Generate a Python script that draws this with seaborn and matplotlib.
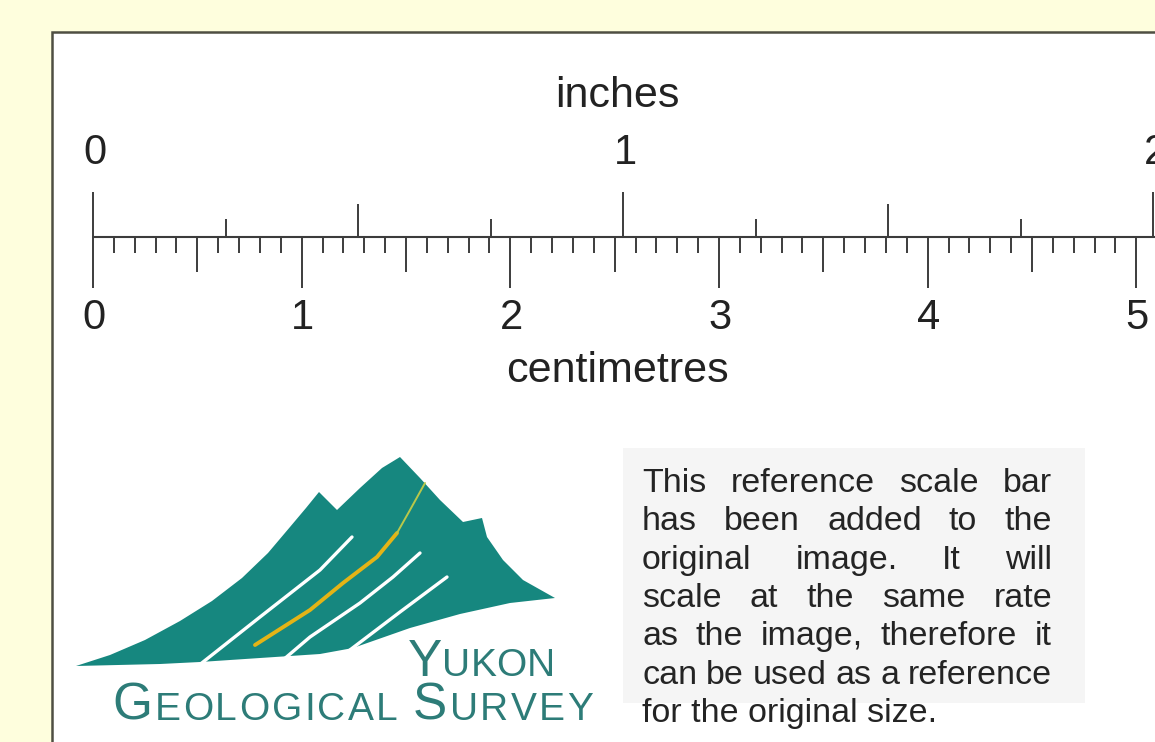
import numpy as np
import pandas as pd
import matplotlib
matplotlib.use('Agg')
import matplotlib.pyplot as plt
from matplotlib.patches import Rectangle, Polygon
import seaborn as sns

# Style
sns.set_style('white')
plt.rcParams['font.family'] = ['Liberation Sans', 'DejaVu Sans']

# ---- data ----
inch_labels = [0, 1, 2]
inch_ticks = [0, 0.25, 0.5, 0.75, 1, 1.25, 1.5, 1.75, 2]
cm_labels = [0, 1, 2, 3, 4, 5]
mm_ticks = list(range(0, 56))
unit_top = 'inches'
unit_bottom = 'centimetres'
paragraph = [
    'This reference scale bar',
    'has been added to the',
    'original image. It will',
    'scale at the same rate',
    'as the image, therefore it',
    'can be used as a reference',
    'for the original size.',
]
logo_line1 = 'YUKON'
logo_line2 = 'GEOLOGICAL SURVEY'

# ---- layout (pixel space) ----
W, H = 1155, 742
x0 = 93            # zero of the ruler
px_inch = 530      # pixels per inch
px_cm = px_inch / 2.54
base_y = 237
line_col = '#3c3c3c'
teal = '#16877f'
teal_text = '#2d7c78'

fig = plt.figure(figsize=(W / 100, H / 100), dpi=100)
fig.patch.set_facecolor('#fefedd')
ax = fig.add_axes([0, 0, 1, 1])

# white panel with dark frame
ax.add_patch(Rectangle((52, 32), 1300, 900, facecolor='white',
                       edgecolor='#4f4f42', linewidth=1.8, zorder=0))
# light grey box behind the paragraph
ax.add_patch(Rectangle((623, 448), 462, 255, facecolor='#f5f5f5',
                       edgecolor='none', zorder=0.5))

# ---- ruler ----
ruler = pd.DataFrame({'x': [x0, W + 5], 'y': [base_y, base_y]})
sns.lineplot(data=ruler, x='x', y='y', ax=ax, color=line_col,
             linewidth=1.5, legend=False)
ax.set_xlim(0, W)
ax.set_ylim(H, 0)
ax.axis('off')

# inch ticks above the line
for t in inch_ticks:
    if t == int(t):
        h = 45
    elif t * 2 == int(t * 2):
        h = 33
    else:
        h = 18
    ax.vlines(x0 + t * px_inch, base_y - h, base_y, color=line_col, linewidth=1.4)

# millimetre ticks below the line
for m in mm_ticks:
    if m % 10 == 0:
        h = 51
    elif m % 5 == 0:
        h = 35
    else:
        h = 16
    ax.vlines(x0 + m * px_cm / 10, base_y, base_y + h, color=line_col, linewidth=1.4)

for v in inch_labels:
    ax.text(x0 + v * px_inch + 2, 153, str(v), fontsize=30, ha='center',
            va='center', color='#222222')
for v in cm_labels:
    ax.text(x0 + v * px_cm + 1, 318, str(v), fontsize=30, ha='center',
            va='center', color='#222222')
ax.text(617, 107, unit_top, fontsize=31, ha='center', va='baseline', color='#222222')
ax.text(617, 382, unit_bottom, fontsize=31, ha='center', va='baseline', color='#222222')

# ---- justified paragraph ----
fig.canvas.draw()
renderer = fig.canvas.get_renderer()


def text_width(s, size):
    t = ax.text(0, 0, s, fontsize=size)
    w = t.get_window_extent(renderer).width
    t.remove()
    return w


para_size = 24.5
left, right = 642, 1052
for i, line in enumerate(paragraph):
    yb = 492 + i * 38.3
    if i == len(paragraph) - 1:
        ax.text(left, yb, line, fontsize=para_size, va='baseline', color='#242424')
        continue
    words = line.split()
    widths = [text_width(w, para_size) for w in words]
    gap = (right - left - sum(widths)) / (len(words) - 1)
    x = left
    for w, wd in zip(words, widths):
        ax.text(x, yb, w, fontsize=para_size, va='baseline', color='#242424')
        x += wd + gap

# ---- logo: mountain ----
outline = [
    (76, 666), (110, 655), (145, 640), (180, 621), (212, 601), (242, 578),
    (268, 553), (290, 527), (306, 508), (319, 492),
    (337, 510), (360, 488), (382, 468), (400, 457),
    (420, 478), (440, 500), (463, 522), (482, 518),
    (487, 537), (503, 560), (523, 580), (555, 598),
    (510, 603), (460, 614), (410, 628), (353, 648),
    (320, 654), (260, 658), (200, 662), (160, 664),
]
ax.add_patch(Polygon(outline, closed=True, facecolor=teal, edgecolor='none', zorder=2))

streaks = [
    [(198, 666), (260, 617), (320, 570), (352, 537)],
    [(283, 660), (310, 637), (360, 603), (393, 577), (420, 553)],
    [(342, 656), (400, 612), (447, 577)],
]
for s in streaks:
    sx, sy = zip(*s)
    ax.plot(sx, sy, color='white', linewidth=2.4, solid_capstyle='round', zorder=3)

yellow = [(255, 645), (310, 610), (343, 583), (377, 557), (397, 533)]
ax.plot(*zip(*yellow), color='#e4b416', linewidth=2.8, solid_capstyle='round', zorder=3)
yellow_top = [(397, 533), (410, 510), (425, 483)]
ax.plot(*zip(*yellow_top), color='#b9c84a', linewidth=1.4, solid_capstyle='round', zorder=3)


# ---- logo: small caps text ----
def small_caps(word):
    out = []
    for part in word.split(' '):
        out.append((part[0], 37))
        out += [(c, 28) for c in part[1:]]
        out.append((' ', 28))
    return out[:-1]


def draw_tracked(text, x_start, x_end, yb):
    pieces = small_caps(text)
    widths = [(0.278 * sz * 100 / 72) if c == ' ' else text_width(c, sz) for c, sz in pieces]
    track = (x_end - x_start - sum(widths)) / (len(pieces) - 1)
    x = x_start
    for (c, sz), wd in zip(pieces, widths):
        if c != ' ':
            ax.text(x, yb, c, fontsize=sz, va='baseline', color=teal_text, zorder=4)
        x += wd + track


draw_tracked(logo_line1, 408, 555, 676)
draw_tracked(logo_line2, 112, 593, 720)

plt.savefig('out.png', dpi=100, facecolor=fig.get_facecolor())
